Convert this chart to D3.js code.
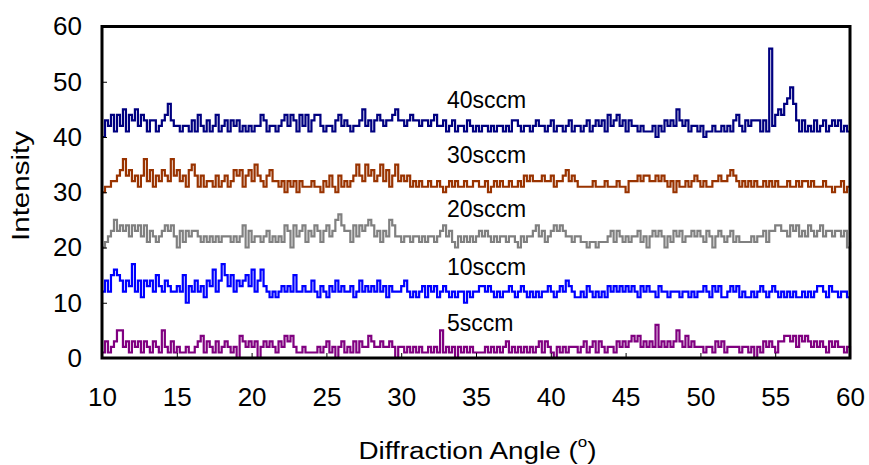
<!DOCTYPE html>
<html><head><meta charset="utf-8">
<script src="https://cdn.jsdelivr.net/npm/d3@7"></script>
<style>body{margin:0;background:#fff} svg{display:block}</style>
</head><body><svg id="c" width="869" height="465"></svg>
<script>
// sampling grid of the scan (degrees)
const angleStart = 10, angleEnd = 60, angleStep = 0.2;
const seriesNames = ["40sccm", "30sccm", "20sccm", "10sccm", "5sccm"];
const xTicks = [10, 15, 20, 25, 30, 35, 40, 45, 50, 55, 60];
const yTicks = [0, 10, 20, 30, 40, 50, 60];

const s40 = [
 40,43,42,44,41,44,42,45,41,44,43,45,42,44,43,41,43,43,41,42,43,44,46,43,42,42,41,42,42,41,43,41,44,42,41,43,41,42,44,41,42,43,
 41,43,42,43,41,42,41,42,41,42,42,44,43,41,42,42,41,42,43,44,42,44,43,41,44,42,44,41,43,44,44,42,41,42,42,41,43,44,42,43,
 42,41,42,42,43,45,42,43,41,43,44,43,42,43,43,44,45,43,43,42,43,44,43,43,42,43,43,42,43,44,42,42,43,41,42,43,41,42,42,41,43,42,41,
 42,41,42,42,41,42,41,42,42,41,42,41,43,43,42,41,42,42,41,42,43,42,42,41,42,43,41,42,42,41,42,43,41,42,42,41,42,43,41,42,43,42,
 43,41,44,42,43,44,42,43,41,43,42,42,41,42,41,41,41,42,40,42,41,43,42,43,42,45,43,42,43,41,42,42,41,42,40,41,41,42,41,41,42,
 41,42,41,43,44,42,41,43,42,43,43,43,41,43,41,56,42,44,45,44,46,47,49,46,43,41,43,41,42,41,43,41,42,43,41,42,43,42,43,41,42,41,41
];
const s30 = [
 30,31,31,32,32,33,34,36,33,34,32,33,31,33,36,32,34,31,33,32,34,33,32,36,33,34,32,33,31,34,35,33,31,33,31,32,32,31,33,31,32,33,
 31,32,34,33,34,31,33,34,32,35,33,32,31,33,34,32,32,31,32,30,32,31,32,30,32,31,31,31,32,31,31,30,32,31,33,31,30,33,31,32,
 31,32,33,35,33,32,35,33,34,32,33,35,32,34,31,33,35,32,33,32,33,31,32,31,32,31,31,32,31,31,32,31,30,31,32,31,32,31,31,32,31,31,32,
 32,31,31,32,30,31,32,31,32,31,31,32,31,31,32,31,33,32,33,32,32,32,33,32,32,33,31,32,32,33,34,32,33,32,31,31,31,31,31,32,31,31,
 31,32,31,31,31,32,31,31,30,32,32,32,33,32,33,33,32,32,33,32,33,32,31,32,30,32,31,31,32,31,32,33,32,31,32,31,31,32,32,33,32,
 32,33,34,33,32,31,32,31,32,31,32,31,31,32,31,32,31,32,31,31,31,32,31,31,32,31,32,32,31,32,31,31,31,32,31,31,30,31,31,32,30,31,31
];
const s20 = [
 20,21,22,23,25,23,24,23,24,22,24,23,24,22,24,21,23,22,21,22,23,24,23,24,22,20,23,21,23,22,23,23,22,21,22,21,22,21,22,21,22,22,
 22,21,22,21,22,24,20,23,21,22,22,21,22,23,21,22,21,22,21,24,23,20,24,22,23,24,21,23,22,24,23,21,23,24,22,23,25,26,24,23,
 23,21,24,22,24,23,24,25,24,22,23,21,23,22,25,24,22,22,21,22,22,21,22,22,21,22,21,22,22,21,22,23,24,22,23,21,20,22,21,22,21,22,21,
 22,23,22,23,22,21,22,21,22,22,21,22,22,21,20,22,21,22,22,23,24,22,23,21,22,23,24,23,24,23,22,22,21,22,22,21,21,20,21,21,20,21,
 21,21,22,23,21,23,22,21,22,21,22,22,23,21,22,20,22,23,22,23,22,20,22,21,23,22,23,21,22,22,23,22,23,22,21,23,22,20,22,23,22,
 21,22,23,21,22,21,21,21,21,22,21,22,22,23,21,23,23,24,24,23,23,22,24,23,24,22,23,22,24,23,22,23,24,22,23,23,22,23,23,22,23,20,21
];
const s10 = [
 12,14,12,15,16,15,14,12,14,13,17,12,14,11,14,13,14,12,15,13,12,14,13,12,12,13,12,15,10,13,12,14,12,13,11,14,13,16,12,14,17,15,
 13,15,12,14,13,14,15,13,16,12,14,16,13,12,11,12,11,12,13,12,13,12,15,12,12,13,12,12,14,12,11,13,12,11,13,12,14,12,13,12,
 12,13,11,12,14,12,13,12,13,12,14,12,13,11,13,12,12,12,13,14,12,11,12,11,12,13,11,13,12,13,11,12,13,12,11,12,11,12,12,10,12,11,12,
 12,13,13,12,13,12,11,12,11,12,12,13,12,11,12,13,12,11,12,11,12,11,12,12,13,12,11,12,13,12,14,13,12,11,11,12,11,13,12,11,12,11,
 12,11,13,12,13,12,13,12,13,12,13,12,11,13,12,13,12,12,11,13,12,12,11,12,12,12,11,12,12,11,12,11,12,12,13,12,11,13,12,13,11,
 11,12,13,12,13,11,12,11,11,12,11,12,13,12,11,12,13,12,11,12,11,12,11,12,11,11,12,11,12,11,12,13,13,12,11,13,12,12,11,12,12,11,11
];
const s5 = [
 1,3,1,2,3,5,5,2,3,1,3,2,3,1,3,2,1,3,2,1,5,2,1,3,1,2,1,1,2,1,1,2,3,4,1,3,2,1,3,1,2,3,
 2,1,2,0,4,3,2,3,2,3,0,2,3,2,3,2,1,3,2,4,3,4,2,1,1,2,1,1,1,1,2,1,2,3,1,2,0,2,3,1,
 2,1,3,1,3,2,2,4,3,2,2,3,2,2,3,2,0,2,2,1,2,1,2,1,2,1,1,2,1,2,1,5,1,2,1,2,0,2,1,2,1,2,1,
 1,1,1,2,1,2,1,2,1,2,3,1,2,1,2,1,2,1,2,1,2,3,1,3,2,1,0,2,1,2,1,2,2,2,1,2,3,1,2,3,1,3,
 2,1,2,2,1,3,2,3,2,3,4,3,4,2,3,2,3,2,6,2,3,2,3,2,3,5,3,2,4,2,3,2,2,2,1,2,2,1,3,2,3,
 1,2,2,2,2,1,2,2,1,2,0,2,1,3,2,3,2,1,3,3,4,4,3,4,2,4,3,4,3,2,3,2,3,2,1,3,2,3,2,2,1,2,0
];
const seriesValues = [s40, s30, s20, s10, s5];

// ---- styling / layout ----
(function () {
const colors = ["#000080", "#993300", "#808080", "#0000FF", "#800080"];
const font = "'Liberation Sans', Arial, sans-serif";
const svg = d3.select("#c");
const pLeft = 102, pRight = 850, pTop = 26.5, pBottom = 358;

const x = d3.scaleLinear().domain([10, 60]).range([pLeft, pRight]);
const y = d3.scaleLinear().domain([0, 60]).range([pBottom, pTop]);

const angles = d3.range(angleStart, angleEnd + angleStep / 2, angleStep);

const line = d3.line()
  .x(d => x(d[0])).y(d => y(d[1]))
  .curve(d3.curveStepAfter);

seriesValues.forEach((vals, i) => {
  const pts = vals.map((v, k) => [angles[k], v]).filter(p => p[0] !== undefined);
  svg.append("path")
    .datum(pts)
    .attr("d", line)
    .attr("fill", "none")
    .attr("stroke", colors[i])
    .attr("stroke-width", 2.2)
    .attr("stroke-linejoin", "miter");
});

// axes (ticks inside)
const gx = svg.append("g").attr("transform", `translate(0,${pBottom})`)
  .call(d3.axisBottom(x).tickValues(xTicks).tickSize(-5).tickPadding(30).tickFormat(d3.format("d")));
const gy = svg.append("g").attr("transform", `translate(${pLeft},0)`)
  .call(d3.axisLeft(y).tickValues(yTicks).tickSize(-5).tickPadding(20).tickFormat(d3.format("d")));
[gx, gy].forEach(g => {
  g.select(".domain").remove();
  g.selectAll("line").attr("stroke", "#000").attr("stroke-width", 1);
  g.selectAll("text").attr("fill", "#000").style("font-family", font).style("font-size", "26px");
});

// frame
svg.append("rect")
  .attr("x", pLeft).attr("y", pTop)
  .attr("width", pRight - pLeft).attr("height", pBottom - pTop)
  .attr("fill", "none").attr("stroke", "#000").attr("stroke-width", 3);

// series labels
const labelAt = [45.2, 35.25, 25.6, 15.05, 4.8];
seriesNames.forEach((n, i) => {
  svg.append("text")
    .attr("x", 447).attr("y", y(labelAt[i]))
    .style("font-family", font).style("font-size", "23px")
    .attr("fill", "#000")
    .text(n);
});

// axis titles
const xt = svg.append("text")
  .attr("x", 477.5).attr("y", 459)
  .attr("text-anchor", "middle")
  .attr("textLength", 238).attr("lengthAdjust", "spacingAndGlyphs")
  .style("font-family", font).style("font-size", "23px")
  .attr("fill", "#000");
xt.append("tspan").text("Diffraction Angle (");
xt.append("tspan").attr("dy", -12).style("font-size", "14px").text("o");
xt.append("tspan").attr("dy", 12).text(")");

svg.append("text")
  .attr("transform", "translate(29,186) rotate(-90)")
  .attr("text-anchor", "middle")
  .attr("textLength", 110).attr("lengthAdjust", "spacingAndGlyphs")
  .style("font-family", font).style("font-size", "23px")
  .attr("fill", "#000")
  .text("Intensity");
})();
</script>
</body></html>
